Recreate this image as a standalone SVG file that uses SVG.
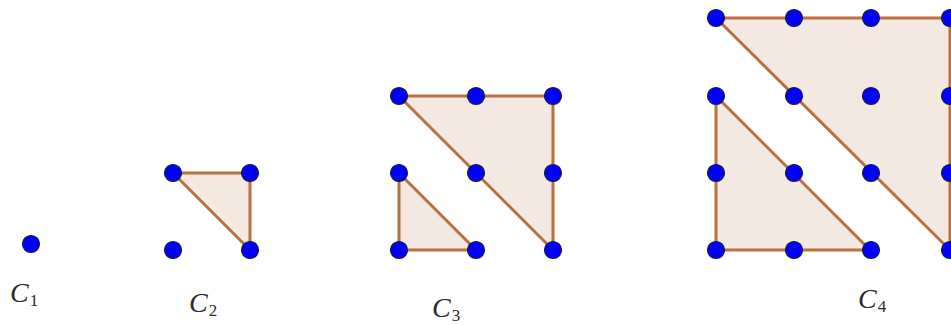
<svg xmlns="http://www.w3.org/2000/svg" width="951" height="325" viewBox="0 0 951 325">
<style>
.tri{fill:#f4e8e2;stroke:#b8703f;stroke-width:3;stroke-linejoin:round}
.dot{fill:#0000ff;stroke:#1a1a40;stroke-width:1.2}
.lbl{font-family:"Liberation Serif",serif;font-style:italic;font-size:28px;fill:#2a2a2a}
.sub{font-style:normal;font-size:17px}
</style>
<rect width="951" height="325" fill="#fff"/>
<g id="C1">
<circle class="dot" cx="31" cy="244" r="8.5"/>
<text class="lbl" x="10" y="302">C<tspan class="sub" dx="1" dy="4">1</tspan></text>
</g>
<g id="C2">
<polygon class="tri" points="173,173 250,173 250,250"/>
<circle class="dot" cx="173" cy="173" r="8.5"/>
<circle class="dot" cx="250" cy="173" r="8.5"/>
<circle class="dot" cx="173" cy="250" r="8.5"/>
<circle class="dot" cx="250" cy="250" r="8.5"/>
<text class="lbl" x="189" y="312">C<tspan class="sub" dx="1" dy="4">2</tspan></text>
</g>
<g id="C3">
<polygon class="tri" points="399,173 399,250 476,250"/>
<polygon class="tri" points="399,96 553,96 553,250"/>
<circle class="dot" cx="399" cy="96" r="8.5"/>
<circle class="dot" cx="476" cy="96" r="8.5"/>
<circle class="dot" cx="553" cy="96" r="8.5"/>
<circle class="dot" cx="399" cy="173" r="8.5"/>
<circle class="dot" cx="476" cy="173" r="8.5"/>
<circle class="dot" cx="553" cy="173" r="8.5"/>
<circle class="dot" cx="399" cy="250" r="8.5"/>
<circle class="dot" cx="476" cy="250" r="8.5"/>
<circle class="dot" cx="553" cy="250" r="8.5"/>
<text class="lbl" x="432" y="317">C<tspan class="sub" dx="1" dy="4">3</tspan></text>
</g>
<g id="C4">
<polygon class="tri" points="716,96 716,250 870,250"/>
<polygon class="tri" points="716,18 950,18 950,250"/>
<circle class="dot" cx="716" cy="18" r="8.5"/>
<circle class="dot" cx="794" cy="18" r="8.5"/>
<circle class="dot" cx="871" cy="18" r="8.5"/>
<circle class="dot" cx="950" cy="18" r="8.5"/>
<circle class="dot" cx="716" cy="96" r="8.5"/>
<circle class="dot" cx="794" cy="96" r="8.5"/>
<circle class="dot" cx="871" cy="96" r="8.5"/>
<circle class="dot" cx="950" cy="96" r="8.5"/>
<circle class="dot" cx="716" cy="173" r="8.5"/>
<circle class="dot" cx="794" cy="173" r="8.5"/>
<circle class="dot" cx="871" cy="173" r="8.5"/>
<circle class="dot" cx="950" cy="173" r="8.5"/>
<circle class="dot" cx="716" cy="250" r="8.5"/>
<circle class="dot" cx="794" cy="250" r="8.5"/>
<circle class="dot" cx="871" cy="250" r="8.5"/>
<circle class="dot" cx="950" cy="250" r="8.5"/>
<text class="lbl" x="858" y="308">C<tspan class="sub" dx="1" dy="4">4</tspan></text>
</g>
<g id="connectors"></g>
</svg>
